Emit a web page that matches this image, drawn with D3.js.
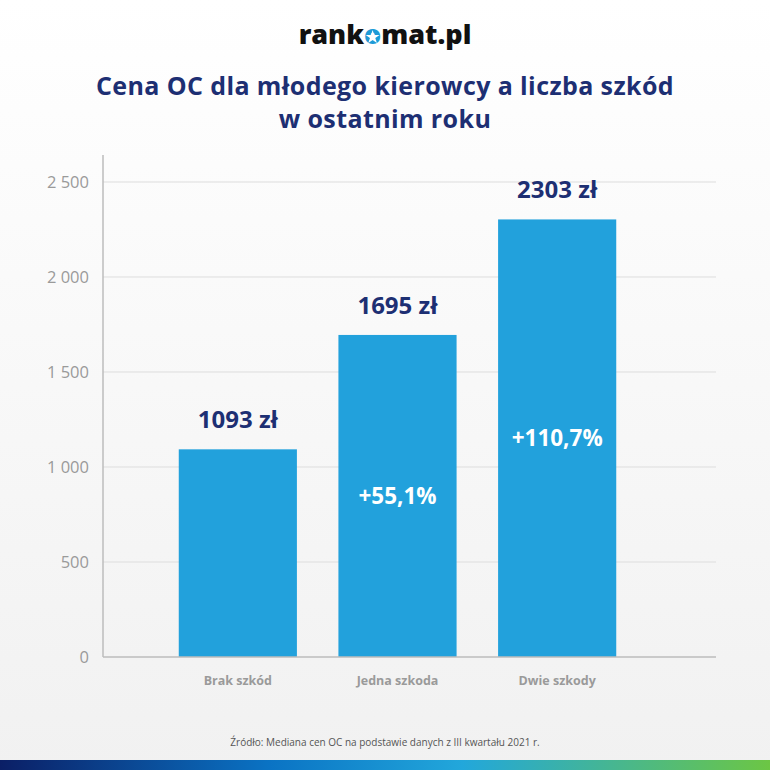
<!DOCTYPE html>
<html>
<head>
<meta charset="utf-8">
<script src="https://cdn.jsdelivr.net/npm/d3@7"></script>
<style>
  html, body { margin: 0; padding: 0; }
  body { width: 770px; height: 770px; overflow: hidden; }
  text { font-family: "Open Sans", "Noto Sans", sans-serif; }
</style>
</head>
<body>
<div id="container"></div>
<script>
// chart data
const categories = ['Brak szkód', 'Jedna szkoda', 'Dwie szkody'];
const prices = [1093, 1695, 2303];
const changes = [null, '+55,1%', '+110,7%'];
const yTicks = [0, 500, 1000, 1500, 2000, 2500];

const width = 770;
const height = 770;

const svg = d3.select('#container')
              .append('svg')
              .attr('width', width)
              .attr('height', height);

// background + bottom stripe gradients
const defs = svg.append('defs');
const bg = defs.append('linearGradient').attr('id', 'bg')
               .attr('x1', 0).attr('y1', 0).attr('x2', 0).attr('y2', 1);
bg.append('stop').attr('offset', '0%').attr('stop-color', '#ffffff');
bg.append('stop').attr('offset', '100%').attr('stop-color', '#f1f1f1');

const stripe = defs.append('linearGradient').attr('id', 'stripe')
                   .attr('x1', 0).attr('y1', 0).attr('x2', 1).attr('y2', 0);
stripe.append('stop').attr('offset', '0%').attr('stop-color', '#0b1f66');
stripe.append('stop').attr('offset', '35%').attr('stop-color', '#0a73c4');
stripe.append('stop').attr('offset', '60%').attr('stop-color', '#22a7db');
stripe.append('stop').attr('offset', '100%').attr('stop-color', '#6cc644');

svg.append('rect').attr('width', width).attr('height', height).attr('fill', 'url(#bg)');
svg.append('rect').attr('x', 0).attr('y', 760).attr('width', width).attr('height', 10)
   .attr('fill', 'url(#stripe)');

// logo
const logo = svg.append('text')
                .attr('x', width / 2)
                .attr('y', 44)
                .attr('text-anchor', 'middle')
                .style('font-family', '"Open Sans", sans-serif')
                .style('font-weight', 800)
                .style('font-size', '27px')
                .attr('fill', '#111');
logo.append('tspan').text('rank');
logo.append('tspan').text('o').attr('fill', '#1e9bd7');
logo.append('tspan').text('mat.pl');
const oBox = logo.node().getExtentOfChar(4);
svg.append('path')
   .attr('d', d3.symbol(d3.symbolStar, 60)())
   .attr('transform', `translate(${oBox.x + oBox.width / 2}, ${oBox.y + oBox.height * 0.6})`)
   .attr('fill', '#ffffff');

// title, one text per line
const titleLines = ['Cena OC dla młodego kierowcy a liczba szkód', 'w ostatnim roku'];
svg.append('g')
   .selectAll('text')
   .data(titleLines)
   .enter()
   .append('text')
   .attr('x', width / 2)
   .attr('y', (d, i) => 95 + i * 33)
   .attr('text-anchor', 'middle')
   .attr('fill', '#1d2f73')
   .style('font-weight', 700)
   .style('font-size', '25px')
   .style('letter-spacing', '0.4px')
   .text((d) => d);

// scales
const plotLeft = 103;
const plotRight = 716;

const x = d3.scaleBand()
            .domain(categories)
            .range([158, 637])
            .paddingInner(0.26)
            .paddingOuter(0.13);

const y = d3.scaleLinear()
            .domain([0, 2500])
            .range([657, 182]);

const fmt = d3.formatLocale({ decimal: ',', thousands: ' ', grouping: [3], currency: ['', ' zł'] }).format(',');

// gridlines
svg.append('g')
   .selectAll('line')
   .data(yTicks.filter((d) => d > 0))
   .enter()
   .append('line')
   .attr('x1', plotLeft)
   .attr('x2', plotRight)
   .attr('y1', (d) => y(d))
   .attr('y2', (d) => y(d))
   .attr('stroke', '#dddddd')
   .attr('stroke-width', 1);

// y axis
const yAxis = svg.append('g')
                 .attr('transform', `translate(${plotLeft},0)`)
                 .call(d3.axisLeft(y).tickValues(yTicks).tickFormat(fmt).tickSize(0).tickPadding(14));
yAxis.select('.domain').remove();
yAxis.selectAll('text')
     .attr('fill', '#9a9a9a')
     .style('font-size', '16.5px')
     .style('font-family', '"Open Sans", sans-serif');

svg.append('line')
   .attr('x1', plotLeft).attr('x2', plotLeft)
   .attr('y1', 155).attr('y2', y(0))
   .attr('stroke', '#bdbdbd').attr('stroke-width', 1.5);

// bars
svg.append('g')
   .selectAll('rect')
   .data(prices)
   .enter()
   .append('rect')
   .attr('x', (d, i) => x(categories[i]))
   .attr('y', (d) => y(d))
   .attr('width', x.bandwidth())
   .attr('height', (d) => y(0) - y(d))
   .attr('fill', '#22a1dc');

// baseline
svg.append('line')
   .attr('x1', plotLeft).attr('x2', plotRight)
   .attr('y1', y(0)).attr('y2', y(0))
   .attr('stroke', '#bdbdbd').attr('stroke-width', 1.5);

// value labels
svg.append('g')
   .selectAll('text')
   .data(prices)
   .enter()
   .append('text')
   .attr('x', (d, i) => x(categories[i]) + x.bandwidth() / 2)
   .attr('y', (d) => y(d) - 21)
   .attr('text-anchor', 'middle')
   .attr('fill', '#1d2f73')
   .style('font-weight', 700)
   .style('font-size', '24px')
   .text((d) => `${d} zł`);

// percentage change labels inside bars
svg.append('g')
   .selectAll('text')
   .data(changes)
   .enter()
   .filter((d) => d !== null)
   .append('text')
   .attr('x', (d) => x(categories[changes.indexOf(d)]) + x.bandwidth() / 2)
   .attr('y', (d) => {
     const v = prices[changes.indexOf(d)];
     return (y(v) + y(0)) / 2 + 8;
   })
   .attr('text-anchor', 'middle')
   .attr('fill', '#ffffff')
   .style('font-weight', 700)
   .style('font-size', '22.5px')
   .text((d) => d);

// category labels
svg.append('g')
   .selectAll('text')
   .data(categories)
   .enter()
   .append('text')
   .attr('x', (d) => x(d) + x.bandwidth() / 2)
   .attr('y', 685)
   .attr('text-anchor', 'middle')
   .attr('fill', '#9a9a9a')
   .style('font-weight', 700)
   .style('font-size', '12.5px')
   .text((d) => d);

// source
svg.append('text')
   .attr('x', width / 2)
   .attr('y', 746)
   .attr('text-anchor', 'middle')
   .attr('fill', '#555')
   .style('font-size', '10px')
   .text('Źródło: Mediana cen OC na podstawie danych z III kwartału 2021 r.');
</script>
</body>
</html>
